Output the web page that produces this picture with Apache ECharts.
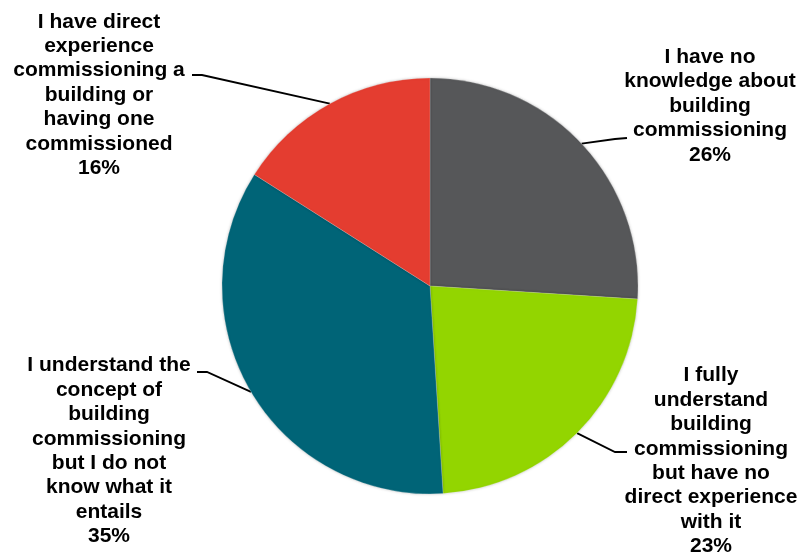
<!DOCTYPE html>
<html>
<head>
<meta charset="utf-8">
<script src="https://cdn.jsdelivr.net/npm/echarts@6/dist/echarts.min.js"></script>
<style>
  html, body { margin: 0; padding: 0; background: #fff; }
  #chart { width: 803px; height: 554px; }
</style>
</head>
<body>
<div id="chart"></div>
<script>
var categories = [
    'I have no\nknowledge about\nbuilding\ncommissioning',
    'I fully\nunderstand\nbuilding\ncommissioning\nbut have no\ndirect experience\nwith it',
    'I understand the\nconcept of\nbuilding\ncommissioning\nbut I do not\nknow what it\nentails',
    'I have direct\nexperience\ncommissioning a\nbuilding or\nhaving one\ncommissioned'
];
var values = [26, 23, 35, 16];
var colors = ['#565759', '#93d500', '#006477', '#e43d30'];

// where each label sits, and where its leader line bends / ends
var labelSpots = [
    { x: 710, y: 106, bend: [615, 139], end: [627, 138] },
    { x: 711, y: 461, bend: [615, 452], end: [627, 452] },
    { x: 109, y: 451, bend: [207, 372], end: [197, 372] },
    { x: 99,  y: 95,  bend: [202, 75],  end: [192, 75] }
];

var pieData = [];
for (var i = 0; i < values.length; i++) {
    pieData.push({ name: categories[i], value: values[i], itemStyle: { color: colors[i] } });
}

var chart = echarts.init(document.getElementById('chart'), null, { renderer: 'canvas' });
chart.setOption({
    animation: false,
    series: [{
        type: 'pie',
        center: [430, 286],
        radius: 208,
        startAngle: 90,
        clockwise: true,
        avoidLabelOverlap: false,
        data: pieData,
        itemStyle: {
            borderColor: 'rgba(255,255,255,0.4)',
            borderWidth: 0.5,
            shadowColor: 'rgba(0,0,0,0.25)',
            shadowBlur: 3
        },
        label: {
            show: true,
            position: 'outside',
            formatter: '{b}\n{c}%',
            color: '#000',
            fontFamily: 'Liberation Sans, Arial, sans-serif',
            fontWeight: 'bold',
            fontSize: 21,
            lineHeight: 24.4,
            align: 'center'
        },
        labelLine: {
            show: true,
            length: 10,
            length2: 10,
            lineStyle: { color: '#000', width: 1.8 }
        },
        labelLayout: function (params) {
            var s = labelSpots[params.dataIndex];
            var start = params.labelLinePoints ? params.labelLinePoints[0] : s.bend;
            return {
                x: s.x,
                y: s.y,
                align: 'center',
                verticalAlign: 'middle',
                labelLinePoints: [start, s.bend, s.end]
            };
        }
    }]
});
</script>
</body>
</html>
